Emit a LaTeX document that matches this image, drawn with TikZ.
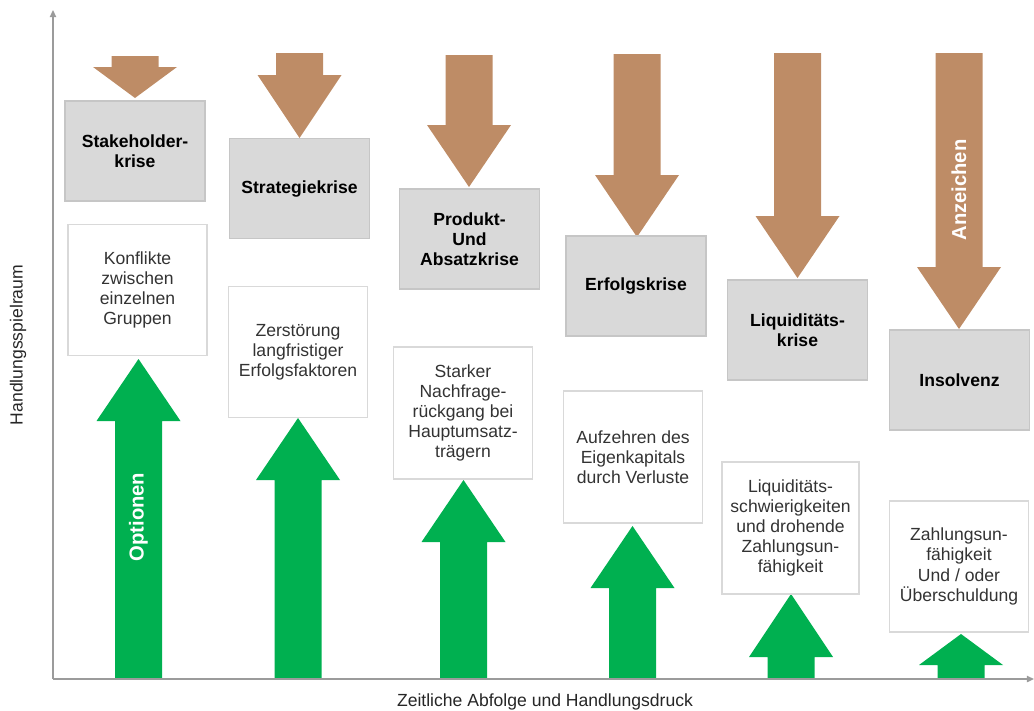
\documentclass[tikz,border=0pt]{standalone}
\usepackage{fontspec}
\setmainfont{Liberation Sans}
\usepackage{tikz}
\usetikzlibrary{arrows.meta}
\definecolor{crisisbrown}{RGB}{190,140,102}
\definecolor{optiongreen}{RGB}{0,176,80}
\definecolor{boxgray}{RGB}{217,217,217}
\definecolor{boxline}{RGB}{198,198,198}
\definecolor{axisgray}{RGB}{155,155,155}

\begin{document}
\begin{tikzpicture}[
    x=0.02cm, y=-0.02cm,
    >={Triangle[length=4pt, width=3.5pt]},
    crisisbox/.style={
        fill=boxgray,
        draw=boxline,
        line width=0.6pt,
        minimum width=2.8cm,
        minimum height=2cm,
        inner sep=2pt,
        align=center,
        font=\bfseries\fontsize{10pt}{11.5pt}\selectfont
    },
    causebox/.style={
        fill=white,
        draw=boxgray,
        line width=0.6pt,
        minimum width=2.78cm,
        minimum height=2.62cm,
        inner sep=2pt,
        align=center,
        text=black!80,
        font=\fontsize{10pt}{11.5pt}\selectfont
    },
    arrowlabel/.style={
        text=white,
        rotate=90,
        font=\bfseries\fontsize{11.5pt}{13pt}\selectfont
    },
    axislabel/.style={
        text=black!85,
        font=\fontsize{10pt}{12pt}\selectfont
    }
]

    \useasboundingbox (0,0) rectangle (1034,710);

    % brown arrows (Anzeichen)
    \foreach \cx/\yt/\yh/\yp in {135/56/67/98, 299.5/53/75/138,
        469/55/125/187, 637/54/175/237, 797.5/53/216/278, 959/53/267/329}
    {
        \fill[crisisbrown]
            ({\cx-23.5},\yt) -- ({\cx+23.5},\yt) -- ({\cx+23.5},\yh)
            -- ({\cx+42},\yh) -- (\cx,\yp) -- ({\cx-42},\yh)
            -- ({\cx-23.5},\yh) -- cycle;
    }

    % green arrows (Optionen)
    \foreach \cx/\yh/\yp in {138.5/421/359, 298/480/418, 463.5/542/480,
        632.5/588/526, 791/657/594, 961/665/634}
    {
        \fill[optiongreen]
            ({\cx-23.5},679) -- ({\cx+23.5},679) -- ({\cx+23.5},\yh)
            -- ({\cx+42},\yh) -- (\cx,\yp) -- ({\cx-42},\yh)
            -- ({\cx-23.5},\yh) -- cycle;
    }

    \node (optionen) [arrowlabel] at (138.5,517) {Optionen};
    \node (anzeichen) [arrowlabel] at (959,190) {Anzeichen};

    % crisis stages
    \node (stakeholder) [crisisbox] at (135,151) {Stakeholder-\\krise};
    \node (strategie) [crisisbox] at (299.5,188.5) {Strategiekrise};
    \node (produkt) [crisisbox] at (469.5,239) {Produkt-\\Und\\Absatzkrise};
    \node (erfolg) [crisisbox] at (636,286) {Erfolgskrise};
    \node (liquiditaet) [crisisbox] at (797.5,330) {Liquiditäts-\\krise};
    \node (insolvenz) [crisisbox] at (959.5,380) {Insolvenz};

    % causes
    \node (konflikte) [causebox] at (137.5,290)
        {Konflikte\\zwischen\\einzelnen\\Gruppen};
    \node (zerstoerung) [causebox] at (298,352)
        {Zerstörung\\langfristiger\\Erfolgsfaktoren};
    \node (nachfrage) [causebox, minimum height=2.64cm] at (463,413)
        {Starker\\Nachfrage-\\rückgang bei\\Hauptumsatz-\\trägern};
    \node (eigenkapital) [causebox, minimum height=2.64cm] at (633,457)
        {Aufzehren des\\Eigenkapitals\\durch Verluste};
    \node (schwierig) [causebox, minimum width=2.74cm, minimum height=2.64cm] at (790.5,528)
        {Liquiditäts-\\schwierigkeiten\\und drohende\\Zahlungsun-\\fähigkeit};
    \node (unfaehig) [causebox] at (959,566.5)
        {Zahlungsun-\\fähigkeit\\Und / oder\\Überschuldung};

    % axes
    \coordinate (origin) at (53,679);
    \coordinate (ytop) at (53,10);
    \coordinate (xend) at (1034,679);

    \draw[
        ->,
        axisgray,
        line width=1.1pt
    ] (origin) -- (ytop);

    \draw[
        ->,
        axisgray,
        line width=1.1pt
    ] (origin) -- (xend);

    \node (ylabel) [axislabel, rotate=90] at (18,345) {Handlungsspielraum};
    \node (xlabel) [axislabel] at (545,702) {Zeitliche Abfolge und Handlungsdruck};

\end{tikzpicture}
\end{document}
